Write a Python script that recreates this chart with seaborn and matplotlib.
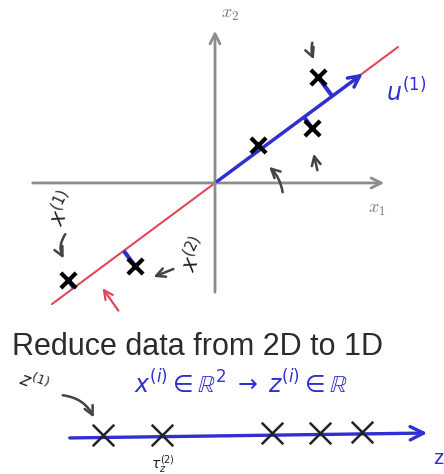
import numpy as np
import pandas as pd
import seaborn as sns
from matplotlib import pyplot as plt

# data points in the x1 / x2 plane
x1_vals = [-2.94, -1.60, 0.86, 1.94, 2.06]
x2_vals = [-1.94, -1.66, 0.76, 1.10, 2.12]
# the red line through the origin and the blue u(1) vector
slope = 0.743
red_x = [-3.26, 3.66]
u_end = [3.0, 2.22]
# the same points after projection onto the 1D z axis
z_vals = [-2.24, -1.06, 1.14, 2.10, 2.94]
z_axis = [-2.96, 4.30]

blue = '#2f2fd2'
red = '#e2475a'
grey = '#8c8c8c'
ink = '#222222'

sns.set_style("white")
plt.rcParams['font.family'] = ['Liberation Sans', 'DejaVu Sans']

fig = plt.figure(figsize=(4.44, 4.74), dpi=100)
ax = fig.add_axes([0, 0.325, 1, 0.675])
ax2 = fig.add_axes([0, 0, 1, 0.325])

# ---- top: 2D picture ----
ax.set_xlim(-4.3, 4.58)
ax.set_ylim(-2.74, 3.66)
ax.set_axis_off()

# coordinate axes
ax.annotate('', xy=(3.44, 0), xytext=(-3.7, 0),
            arrowprops=dict(arrowstyle='->', color=grey, lw=2, mutation_scale=18))
ax.annotate('', xy=(0, 3.1), xytext=(0, -2.24),
            arrowprops=dict(arrowstyle='->', color=grey, lw=2, mutation_scale=18))
ax.text(0.3, 3.36, r'$x_2$', color='#777777', fontsize=13, ha='center', va='center',
        math_fontfamily='cm')
ax.text(3.24, -0.54, r'$x_1$', color='#777777', fontsize=13, ha='center', va='center',
        math_fontfamily='cm')

# red line
red_df = pd.DataFrame({'x': red_x, 'y': [slope * v for v in red_x]})
sns.lineplot(data=red_df, x='x', y='y', color=red, lw=1.5, sort=False,
             estimator=None, ax=ax)

# projections onto the line
d = np.array([1.0, slope]) / np.hypot(1.0, slope)
for px, py in zip(x1_vals, x2_vals):
    t = px * d[0] + py * d[1]
    ax.plot([px, t * d[0]], [py, t * d[1]], color=blue, lw=3, solid_capstyle='butt')

# u(1) vector
ax.annotate('', xy=(u_end[0], u_end[1]), xytext=(0, 0),
            arrowprops=dict(arrowstyle='->', color=blue, lw=2.5, mutation_scale=20))
ax.text(3.42, 1.82, r'$u^{(1)}$', color=blue, fontsize=17, ha='left', va='center')

# crosses
pts = pd.DataFrame({'x1': x1_vals, 'x2': x2_vals})
sns.scatterplot(data=pts, x='x1', y='x2', marker='x', s=120, linewidth=3,
                color='black', ax=ax, zorder=5)
ax.set_xlabel('')
ax.set_ylabel('')

# hand drawn arrows and labels
hand = dict(arrowstyle='->', color='#444444', lw=1.8, mutation_scale=16)
ax.annotate('', xy=(2.0, 2.42), xytext=(1.96, 2.86),
            arrowprops=dict(hand, connectionstyle='arc3,rad=0.2'))
ax.annotate('', xy=(1.96, 0.64), xytext=(2.06, 0.2), arrowprops=hand)
ax.annotate('', xy=(1.04, 0.36), xytext=(1.36, -0.24),
            arrowprops=dict(hand, connectionstyle='arc3,rad=0.2'))
ax.annotate('', xy=(-3.0, -1.56), xytext=(-2.96, -0.98),
            arrowprops=dict(hand, connectionstyle='arc3,rad=0.35'))
ax.annotate('', xy=(-1.28, -1.9), xytext=(-0.78, -1.7), arrowprops=hand)
ax.annotate('', xy=(-2.28, -2.06), xytext=(-1.9, -2.6),
            arrowprops=dict(arrowstyle='->', color=red, lw=1.6, mutation_scale=16))
ax.text(-3.05, -0.5, r'$x^{(1)}$', color=ink, fontsize=15, rotation=65,
        ha='center', va='center')
ax.text(-0.42, -1.42, r'$x^{(2)}$', color=ink, fontsize=15, rotation=65,
        ha='center', va='center')

# ---- bottom: 1D picture ----
ax2.set_xlim(-4.3, 4.58)
ax2.set_ylim(-0.72, 2.36)
ax2.set_axis_off()

ax2.text(-0.35, 1.66, 'Reduce data from 2D to 1D', color='#2b2b2b', fontsize=22,
         ha='center', va='baseline')
ax2.text(0.52, 0.9, r'$x^{(i)} \in \mathbb{R}^2 \;\rightarrow\; z^{(i)} \in \mathbb{R}$',
         color=blue, fontsize=17, ha='center', va='baseline')
ax2.text(-3.62, 1.1, r'$z^{(1)}$', color=ink, fontsize=13, rotation=-20,
         ha='center', va='center')
ax2.annotate('', xy=(-2.4, 0.36), xytext=(-3.1, 0.86),
             arrowprops=dict(hand, connectionstyle='arc3,rad=-0.3'))

tilt = 0.1 / (z_axis[1] - z_axis[0])
ax2.annotate('', xy=(z_axis[1], 0.1), xytext=(z_axis[0], 0.0),
             arrowprops=dict(arrowstyle='->', color=blue, lw=2.4, mutation_scale=24))
zdf = pd.DataFrame({'z': z_vals, 'y': [0.04 + tilt * (v - z_axis[0]) for v in z_vals]})
sns.scatterplot(data=zdf, x='z', y='y', marker='x', s=240, linewidth=1.8,
                color=ink, ax=ax2, zorder=5)
ax2.set_xlabel('')
ax2.set_ylabel('')
ax2.text(4.36, -0.42, 'z', color=blue, fontsize=15, ha='left', va='center')
ax2.text(-1.05, -0.52, r'$\tau_{z}^{(2)}$', color=ink, fontsize=10, ha='center',
         va='center')

fig.savefig('out.png', dpi=100)
